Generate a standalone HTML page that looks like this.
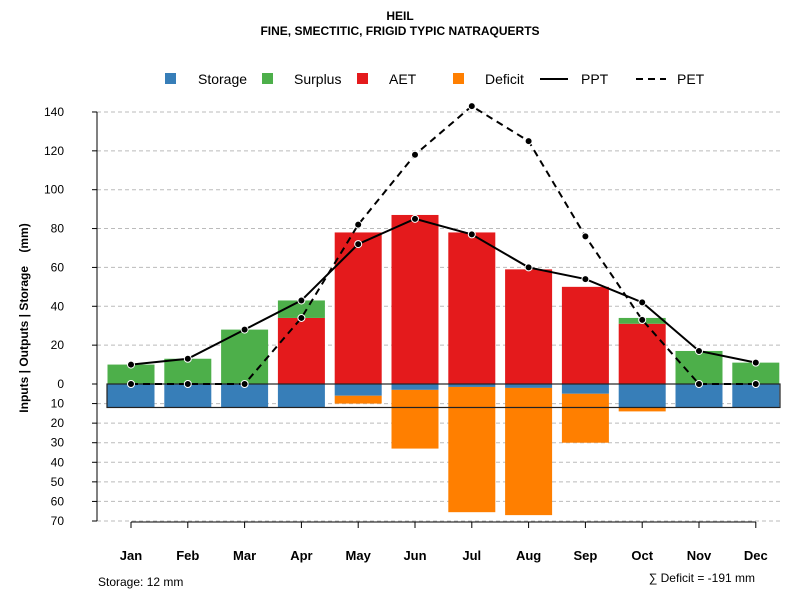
<!DOCTYPE html>
<html><head><meta charset="utf-8"><style>
body{margin:0;background:#fff;font-family:"Liberation Sans",sans-serif}
svg text{font-family:"Liberation Sans",sans-serif}
</style></head><body>
<svg id="c" width="800" height="600" xmlns="http://www.w3.org/2000/svg"></svg>
<script>
const months=["Jan","Feb","Mar","Apr","May","Jun","Jul","Aug","Sep","Oct","Nov","Dec"];
const ppt=[10,13,28,43,72,85,77,60,54,42,17,11];
const pet=[0,0,0,34,82,118,143,125,76,33,0,0];
const aet=[0,0,0,34,78,87,78,59,50,31,0,0];
const surplus=[10,13,28,9,0,0,0,0,0,3,17,11];
const storageUsed=[12,12,12,12,6,3,1.5,2,5,12,12,12];
const deficit=[0,0,0,0,4,30,64,65,25,2,0,0];
const posTicks=[0,20,40,60,80,100,120,140];
const negTicks=[10,20,30,40,50,60,70];
const storageCap=12;
const NS="http://www.w3.org/2000/svg";
const svg=document.getElementById('c');
const y0=384;
function yP(v){return y0-v*1.943;}
function yN(v){return y0+v*1.957;}
function xC(i){return 131+i*56.8;}
const bw=47;
function el(t,a,p){const e=document.createElementNS(NS,t);for(const k in a)e.setAttribute(k,a[k]);(p||svg).appendChild(e);return e;}
function tx(x,y,s,a){const e=el('text',Object.assign({x:x,y:y},a));e.textContent=s;return e;}
let t1=tx(400,20,"HEIL",{"text-anchor":"middle","font-size":12,"font-weight":"bold"});

let t2=tx(400,35,"FINE, SMECTITIC, FRIGID TYPIC NATRAQUERTS",{"text-anchor":"middle","font-size":12,"font-weight":"bold"});

posTicks.forEach(v=>{if(v>0){let g=el('line',{x1:97,x2:780,y1:yP(v),y2:yP(v),stroke:"#bbb","stroke-dasharray":"4,3"});}
 let l=tx(64,yP(v)+4,String(v),{"text-anchor":"end","font-size":12});
 el('line',{x1:92,x2:97,y1:yP(v),y2:yP(v),stroke:"#000"});});
negTicks.forEach(v=>{let g=el('line',{x1:97,x2:780,y1:yN(v),y2:yN(v),stroke:"#bbb","stroke-dasharray":"4,3"});
 let l=tx(64,yN(v)+4,String(v),{"text-anchor":"end","font-size":12});
 el('line',{x1:92,x2:97,y1:yN(v),y2:yN(v),stroke:"#000"});});
el('line',{x1:97,x2:97,y1:yP(140),y2:yN(70),stroke:"#000"});
let yt=tx(0,0,"Inputs | Outputs | Storage\u00a0\u00a0\u00a0\u00a0(mm)",{"font-size":12,"font-weight":"bold","text-anchor":"middle",transform:"translate(28,318) rotate(-90)"});

months.forEach((m,i)=>{const x=xC(i)-bw/2;
 if(aet[i]>0){let r=el('rect',{x:x,y:yP(aet[i]),width:bw,height:yP(0)-yP(aet[i]),fill:"#e41a1c"});}
 if(surplus[i]>0){let r=el('rect',{x:x,y:yP(aet[i]+surplus[i]),width:bw,height:yP(aet[i])-yP(aet[i]+surplus[i]),fill:"#4daf4a"});}
 let s=el('rect',{x:x,y:y0,width:bw,height:yN(storageUsed[i])-y0,fill:"#377eb8"});
 if(deficit[i]>0){let r=el('rect',{x:x,y:yN(storageUsed[i]),width:bw,height:yN(storageUsed[i]+deficit[i])-yN(storageUsed[i]),fill:"#ff7f00"});}
 let xl=tx(xC(i),560,m,{"text-anchor":"middle","font-size":13,"font-weight":"bold"});
 el('line',{x1:xC(i),x2:xC(i),y1:522,y2:528,stroke:"#000"});
});
el('line',{x1:131,x2:xC(11),y1:522,y2:522,stroke:"#000"});
let box=el('rect',{x:107,y:y0,width:673,height:yN(storageCap)-y0,fill:"none",stroke:"#222","stroke-width":1.2});

function line(arr,dash,name){let d=arr.map((v,i)=>(i?"L":"M")+xC(i)+","+yP(v)).join(" ");
 let p=el('path',{d:d,fill:"none",stroke:"#000","stroke-width":2,"stroke-dasharray":dash||"none"});
 arr.forEach((v,i)=>{let c=el('circle',{cx:xC(i),cy:yP(v),r:3.5,fill:"#000",stroke:"#fff","stroke-width":1});});}
line(pet,"7,5","pet");line(ppt,null,"ppt");
const lg=el('g',{});
[["Storage","#377eb8",165,198],["Surplus","#4daf4a",262,294],["AET","#e41a1c",357,389],["Deficit","#ff7f00",453,485]].forEach(a=>{
 let r=el('rect',{x:a[2],y:73,width:11,height:11,fill:a[1]},lg);
 let t=tx(a[3],84,a[0],{"font-size":14});lg.appendChild(t);});
el('line',{x1:540,x2:568,y1:79,y2:79,stroke:"#000","stroke-width":2},lg);
let tp=tx(581,84,"PPT",{"font-size":14});lg.appendChild(tp);
el('line',{x1:636,x2:666,y1:79,y2:79,stroke:"#000","stroke-width":2,"stroke-dasharray":"7,5"},lg);
let te=tx(677,84,"PET",{"font-size":14});lg.appendChild(te);
let f1=tx(98,586,"Storage: 12 mm",{"font-size":12});
let f2=tx(755,582,"∑ Deficit = -191 mm",{"font-size":12,"text-anchor":"end"});
</script>
</body></html>
